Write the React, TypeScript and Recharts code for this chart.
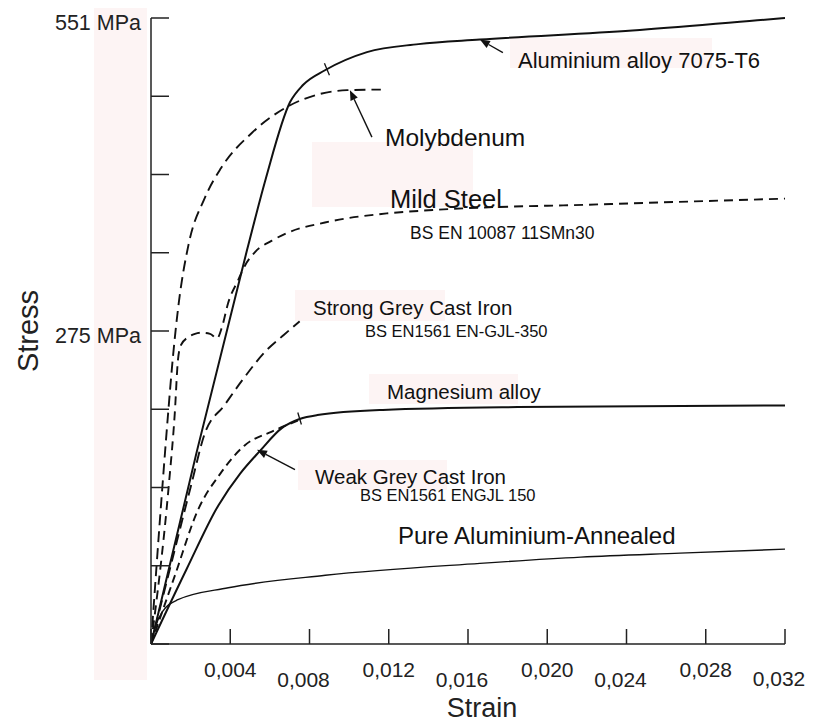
import { LineChart, Line, XAxis, YAxis, ReferenceDot } from 'recharts'

// strain ticks along the bottom, stress ticks up the side (8 equal steps of 551 MPa)
const STRAIN_TICKS = [0, 0.004, 0.008, 0.012, 0.016, 0.02, 0.024, 0.028, 0.032]
const STRAIN_LABELS = ['', '0,004', '0,008', '0,012', '0,016', '0,020', '0,024', '0,028', '0,032']
const STRESS_TICKS = [0, 68.875, 137.75, 206.625, 275.5, 344.375, 413.25, 482.125, 551]
const STRESS_LABELS = ['', '', '', '', '275 MPa', '', '', '', '551 MPa']

// [strain, stress MPa]
const alu7075 = [[0, 0], [0.00232, 170], [0.00485, 347], [0.0058, 410], [0.00702, 477], [0.00767, 492], [0.00878, 505], [0.0109, 521], [0.0135, 528], [0.0166, 532], [0.0243, 540], [0.0306, 549], [0.032, 551]]
const molybdenum = [[0, 0], [0.00056, 135], [0.00085, 200], [0.00112, 255], [0.0014, 300], [0.0019, 352], [0.0027, 392], [0.0035, 418], [0.0051, 450], [0.007, 474], [0.0085, 484], [0.0099, 487.5], [0.0116, 488]]
const mildSteel = [[0, 0], [0.0009, 140], [0.0012, 203], [0.00136, 250], [0.00151, 263], [0.00187, 270], [0.00222, 273], [0.00257, 274], [0.00298, 273], [0.00333, 269], [0.0036, 280], [0.00389, 300], [0.00439, 320], [0.00474, 333], [0.00525, 345], [0.0061, 355], [0.0069, 362], [0.00878, 371], [0.0119, 379], [0.01423, 382], [0.0227, 387], [0.032, 392]]
const strongGreyIron = [[0, 0], [0.0012, 83], [0.002, 138], [0.00273, 186], [0.0037, 210], [0.0046, 232], [0.0058, 258], [0.0067, 272], [0.0075, 284]]
const weakGreyIron = [[0, 0], [0.0012, 60], [0.00237, 118], [0.0035, 150], [0.00474, 175], [0.0061, 187], [0.0076, 198]]
const magnesium = [[0, 0], [0.0018, 66], [0.0034, 122], [0.0045, 150], [0.0055, 170], [0.0066, 190], [0.0075, 198], [0.0084, 201.5], [0.0117, 206], [0.0185, 208.5], [0.032, 210]]
const pureAlu = [[0, 0], [0.0002, 14], [0.00056, 28], [0.00136, 39], [0.0039, 49.5], [0.0088, 60.5], [0.0166, 71], [0.0217, 76.5], [0.0267, 80], [0.032, 83.5]]

const pts = (a: number[][]) => a.map(([x, y]) => ({ x, y }))

const INK = '#111'
const FONT = '"Liberation Sans", Arial, sans-serif'
const PINK = '#fdf4f4'

// annotation text (pixel placement) and pale label patches
const NOTES = [
  { text: 'Aluminium alloy 7075-T6', x: 518, y: 68, size: 22 },
  { text: 'Molybdenum', x: 385, y: 146, size: 24.5 },
  { text: 'Mild Steel', x: 390, y: 208, size: 25.5 },
  { text: 'BS EN 10087 11SMn30', x: 410, y: 239, size: 17.5 },
  { text: 'Strong Grey Cast Iron', x: 313, y: 315, size: 20.5 },
  { text: 'BS EN1561 EN-GJL-350', x: 365, y: 337, size: 16.5 },
  { text: 'Magnesium alloy', x: 387, y: 399, size: 20.5 },
  { text: 'Weak Grey Cast Iron', x: 315, y: 484, size: 20.5 },
  { text: 'BS EN1561 ENGJL 150', x: 360, y: 501, size: 16.5 },
  { text: 'Pure Aluminium-Annealed', x: 398, y: 544, size: 24 },
]
const PATCHES = [
  [94, 8, 53, 672], [510, 38, 202, 30], [312, 142, 161, 65],
  [295, 290, 150, 31], [369, 374, 149, 30], [298, 460, 149, 30],
]

// arrows: tip on the curve (data), tail offset in px
const ARROWS = [
  { x: 0.0166, y: 532, dx: 23, dy: 13 },
  { x: 0.01004, y: 487.5, dx: 22, dy: 47 },
  { x: 0.00535, y: 171, dx: 38, dy: 20 },
]
// small yield marks across curves
const MARKS = [
  { x: 0.00888, y: 506, dx: 2.5, dy: 6 },
  { x: 0.0075, y: 198.5, dx: 1.8, dy: 6 },
]

const Arrow = ({ cx, cy, dx, dy }: any) => {
  const len = Math.hypot(dx, dy)
  const ux = dx / len, uy = dy / len
  const h = 10, w = 4
  const bx = cx + ux * h, by = cy + uy * h
  return (
    <g>
      <line x1={cx + dx} y1={cy + dy} x2={bx} y2={by} stroke={INK} strokeWidth={1.4} />
      <polygon points={`${cx},${cy} ${bx - uy * w},${by + ux * w} ${bx + uy * w},${by - ux * w}`} fill={INK} />
    </g>
  )
}

const Mark = ({ cx, cy, dx, dy }: any) => (
  <line x1={cx - dx} y1={cy - dy} x2={cx + dx} y2={cy + dy} stroke={INK} strokeWidth={1.3} />
)

const StrainTick = ({ x, y, index }: any) => {
  const label = STRAIN_LABELS[index]
  if (!label) return null
  const base = index === 8 ? y + 27 : index % 2 ? y + 18 : y + 28
  return <text x={index % 2 ? x : x - 6} y={base} textAnchor="middle" fontSize={21} fontFamily={FONT} fill="#222">{label}</text>
}

const StressTick = ({ x, y, index }: any) => {
  const label = STRESS_LABELS[index]
  if (!label) return null
  return <text x={x} y={y + 12} textAnchor="end" fontSize={21.5} fontFamily={FONT} fill="#222">{label}</text>
}

export default function App() {
  const dashed = { type: 'monotone' as const, stroke: INK, strokeWidth: 1.9, dot: false, isAnimationActive: false }
  return (
    <div style={{ position: 'absolute', left: 0, top: 0, width: 814, height: 723, background: '#fff' }}>
      <LineChart width={814} height={723} margin={{ top: 18, right: 29, bottom: 0, left: 91 }}>
        {PATCHES.map(([x, y, w, h], i) => (
          <rect key={i} x={x} y={y} width={w} height={h} fill={PINK} />
        ))}
        <XAxis dataKey="x" type="number" domain={[0, 0.032]} ticks={STRAIN_TICKS} height={79}
          stroke="#222" strokeWidth={1.5} tickSize={-15} tickMargin={30} tick={<StrainTick />} allowDataOverflow />
        <XAxis xAxisId="top" orientation="top" type="number" domain={[0, 0.032]} height={0}
          stroke="#222" strokeWidth={1.5} tick={false} tickLine={false} />
        <YAxis type="number" domain={[0, 551]} ticks={STRESS_TICKS} width={60}
          stroke="#222" strokeWidth={1.5} tickSize={-18} tickMargin={28} tick={<StressTick />} />
        <YAxis yAxisId="right" orientation="right" type="number" domain={[0, 551]} width={0}
          stroke="#222" strokeWidth={1.5} tick={false} tickLine={false} />

        <Line data={pts(pureAlu)} dataKey="y" type="monotone" stroke={INK} strokeWidth={1.4} dot={false} isAnimationActive={false} />
        <Line data={pts(magnesium)} dataKey="y" type="monotone" stroke={INK} strokeWidth={2} dot={false} isAnimationActive={false} />
        <Line data={pts(weakGreyIron)} dataKey="y" {...dashed} strokeDasharray="8 5" />
        <Line data={pts(strongGreyIron)} dataKey="y" {...dashed} strokeDasharray="11 6" />
        <Line data={pts(mildSteel)} dataKey="y" {...dashed} strokeDasharray="9 6" />
        <Line data={pts(molybdenum)} dataKey="y" {...dashed} strokeDasharray="11 6" />
        <Line data={pts(alu7075)} dataKey="y" type="monotone" stroke={INK} strokeWidth={2} dot={false} isAnimationActive={false} />

        {ARROWS.map((a, i) => (
          <ReferenceDot key={`a${i}`} x={a.x} y={a.y} r={0} shape={(p: any) => <Arrow {...p} dx={a.dx} dy={a.dy} />} />
        ))}
        {MARKS.map((m, i) => (
          <ReferenceDot key={`m${i}`} x={m.x} y={m.y} r={0} shape={(p: any) => <Mark {...p} dx={m.dx} dy={m.dy} />} />
        ))}

        {NOTES.map(n => (
          <text key={n.text} x={n.x} y={n.y} fontSize={n.size} fontFamily={FONT} fill="#111">{n.text}</text>
        ))}
        <text x={482} y={717} textAnchor="middle" fontSize={27} fontFamily={FONT} fill="#222">Strain</text>
        <text x={38} y={331} textAnchor="middle" fontSize={29} fontFamily={FONT} fill="#222" transform="rotate(-90 38 331)">Stress</text>
      </LineChart>
    </div>
  )
}
